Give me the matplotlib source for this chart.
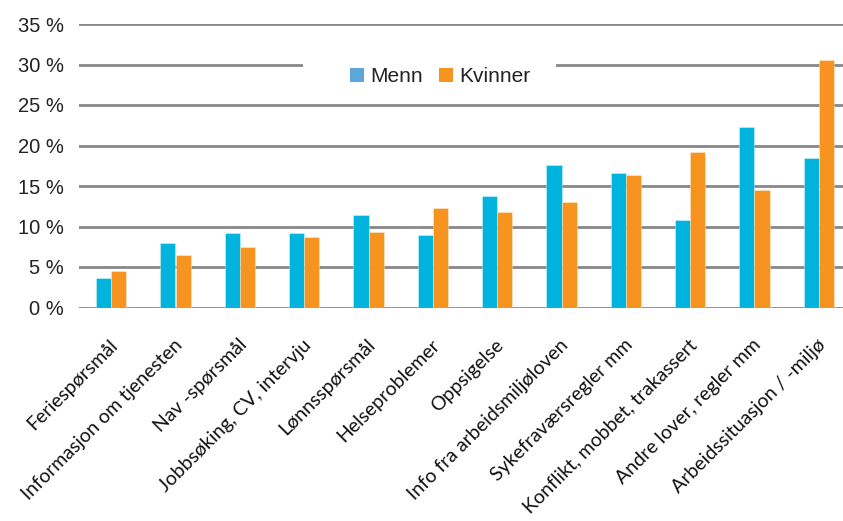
import matplotlib
matplotlib.use("Agg")
import matplotlib.pyplot as plt
from matplotlib.patches import Patch, Rectangle
import matplotlib.transforms as mtrans
import numpy as np

categories = [
    "Feriespørsmål",
    "Informasjon om tjenesten",
    "Nav -spørsmål",
    "Jobbsøking, CV, intervju",
    "Lønnsspørsmål",
    "Helseproblemer",
    "Oppsigelse",
    "Info fra arbeidsmiljøloven",
    "Sykefraværsregler mm",
    "Konflikt, mobbet, trakassert",
    "Andre lover, regler mm",
    "Arbeidssituasjon / -miljø",
]
menn = [3.7, 7.95, 9.15, 9.15, 11.4, 9.0, 13.8, 17.6, 16.6, 10.8, 22.3, 18.4]
kvinner = [4.55, 6.45, 7.5, 8.75, 9.35, 12.3, 11.8, 13.0, 16.4, 19.2, 14.55, 30.6]
yticks = [0, 5, 10, 15, 20, 25, 30, 35]
ytick_labels = ["0 %", "5 %", "10 %", "15 %", "20 %", "25 %", "30 %", "35 %"]
series_names = ["Menn", "Kvinner"]

c_menn = "#00B4DE"
c_menn_legend = "#5DA6DA"
c_kvinner = "#F7941F"

W, H = 843, 521
fig = plt.figure(figsize=(W / 100, H / 100), dpi=100)
left, right = 79 / W, 851 / W
y0, y35 = 307.5, 24.0
ax = fig.add_axes([left, 1 - y0 / H, right - left, (y0 - y35) / H])

x = np.arange(len(categories))
bw = 0.238
ax.bar(x - bw / 2, menn, bw, color=c_menn, edgecolor=(1, 1, 1, 0.5), linewidth=0.5, zorder=3)
ax.bar(x + bw / 2, kvinner, bw, color=c_kvinner, edgecolor=(1, 1, 1, 0.5), linewidth=0.5, zorder=3)

ax.set_xlim(-0.5, len(categories) - 0.5)
ax.set_ylim(0, 35)
ax.set_yticks(yticks)
ax.set_yticklabels(ytick_labels, fontfamily="Liberation Sans", fontsize=14.5, color="#222222")
ax.yaxis.grid(True, color="#878787", linewidth=2.0, zorder=1)
ax.set_axisbelow(True)
for s in ax.spines.values():
    s.set_visible(False)
ax.tick_params(axis="both", length=0)
ax.tick_params(axis="y", pad=11)

ax.set_xticks(x)
ax.set_xticklabels(categories, rotation=45, ha="right", va="center",
                   rotation_mode="anchor", fontfamily="Lato", fontsize=14, color="#111111")
ax.tick_params(axis="x", pad=25)
offset = mtrans.ScaledTranslation(4 / 100, 0, fig.dpi_scale_trans)
for lab in ax.get_xticklabels():
    lab.set_transform(lab.get_transform() + offset)

# white area behind legend breaking gridline
fig.patches.append(Rectangle((303 / W, 1 - 95 / H), (556 - 303) / W, 40 / H,
                             transform=fig.transFigure, facecolor="white",
                             edgecolor="none", zorder=2))

handles = [Patch(facecolor=c_menn_legend, edgecolor="none"),
           Patch(facecolor=c_kvinner, edgecolor="none")]
leg = fig.legend(handles, series_names, loc="center",
                 bbox_to_anchor=(440 / W, 1 - 77 / H), ncol=2, frameon=False,
                 prop={"family": "Liberation Sans", "size": 15},
                 handlelength=0.65, handleheight=0.65, handletextpad=0.3,
                 columnspacing=0.8)
for t in leg.get_texts():
    t.set_color("#222222")
leg.set_zorder(5)

fig.savefig("out.png", dpi=100)
